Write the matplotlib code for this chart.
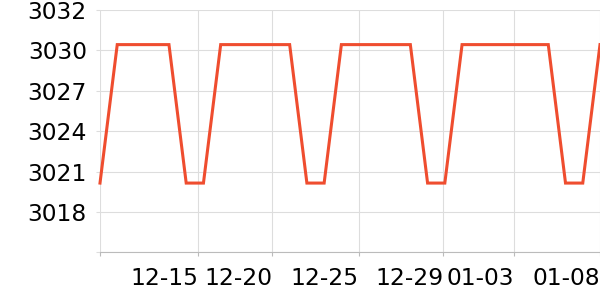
import matplotlib
matplotlib.use("Agg")
import matplotlib.pyplot as plt
import numpy as np

# data (30 points on a category axis)
values = [3020.4, 3030.0, 3030.0, 3030.0, 3030.0, 3020.4, 3020.4,
          3030.0, 3030.0, 3030.0, 3030.0, 3030.0, 3020.4, 3020.4,
          3030.0, 3030.0, 3030.0, 3030.0, 3030.0, 3020.4, 3020.4,
          3030.0, 3030.0, 3030.0, 3030.0, 3030.0, 3030.0, 3020.4, 3020.4,
          3030.0]
x_tick_pos = [0, 5.7, 10, 15, 19.9, 24, 29]
x_tick_labels = ["", "12-15", "12-20", "12-25", "12-29", "01-03", "01-08"]
y_tick_pos = [3015.6, 3018.4, 3021.2, 3024.0, 3026.8, 3029.6, 3032.4]
y_tick_labels = ["", "3018", "3021", "3024", "3027", "3030", "3032"]

plt.rcParams['font.family'] = ['DejaVu Sans']
fig = plt.figure(figsize=(6, 3), dpi=100)
ax = fig.add_axes([100/600, 47.7/300, 500/600, 242.3/300])

x = np.arange(len(values))
ax.plot(x, values, color='#ef4d2f', lw=2.2, solid_joinstyle='miter', zorder=3, clip_on=False)

ax.set_xlim(0, len(values) - 1)
ax.set_ylim(y_tick_pos[0], y_tick_pos[-1])
ax.set_xticks(x_tick_pos)
ax.set_xticklabels(x_tick_labels, ha='right', fontsize=16.8)
ax.set_yticks(y_tick_pos)
ax.set_yticklabels(y_tick_labels, fontsize=16.8)

ax.grid(True, color='#dddddd', lw=0.8)
ax.set_axisbelow(True)
for s in ['top', 'right', 'left']:
    ax.spines[s].set_visible(False)
ax.spines['bottom'].set_color('#bbbbbb')
ax.spines['bottom'].set_linewidth(0.8)
ax.tick_params(axis='x', length=3, width=0.8, color='#bbbbbb', pad=7.5, labelcolor='black')
ax.tick_params(axis='y', length=3, width=0.8, color='#dddddd', pad=6.5, labelcolor='black')

fig.savefig('out.png', dpi=100)
